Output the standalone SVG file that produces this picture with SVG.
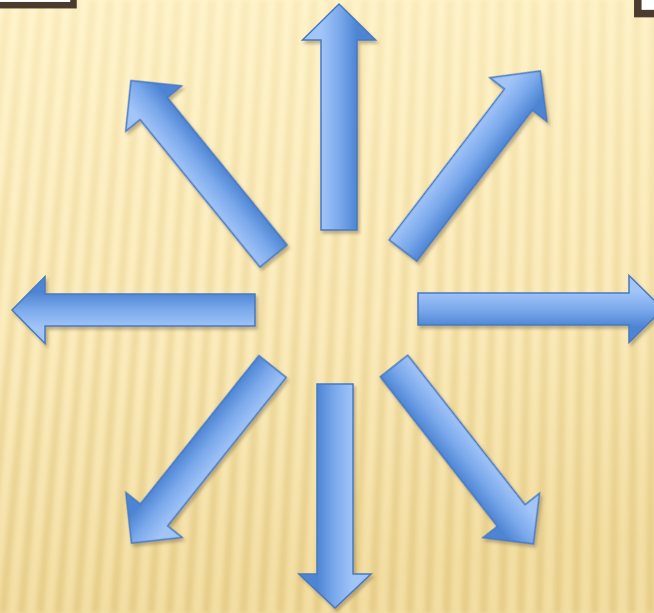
<svg xmlns="http://www.w3.org/2000/svg" width="654" height="613" viewBox="0 0 654 613">
<defs>
<linearGradient id="bg" x1="0" y1="0" x2="0.15" y2="1">
<stop offset="0" stop-color="#fff4cc"/>
<stop offset="0.6" stop-color="#fbebbb"/>
<stop offset="1" stop-color="#f3dea3"/>
</linearGradient>
<linearGradient id="stripeG" gradientUnits="userSpaceOnUse" x1="0" y1="0" x2="0" y2="613">
<stop offset="0" stop-color="#e9d28e" stop-opacity="0.25"/>
<stop offset="1" stop-color="#dfc47a" stop-opacity="0.65"/>
</linearGradient>
<filter id="blur" x="-10%" y="-10%" width="120%" height="120%">
<feGaussianBlur stdDeviation="2.2"/>
</filter>
<linearGradient id="arrowG" gradientUnits="userSpaceOnUse" x1="0" y1="-18" x2="0" y2="18">
<stop offset="0" stop-color="#a2c5f8"/>
<stop offset="0.5" stop-color="#7caaec"/>
<stop offset="1" stop-color="#4d84d3"/>
</linearGradient>
<filter id="shadow" x="-20%" y="-20%" width="140%" height="140%">
<feDropShadow dx="2" dy="3" stdDeviation="1.8" flood-color="#7d6c45" flood-opacity="0.45"/>
</filter>
<path id="diag" d="M0,-17.5 L190,-17.5 L190,-36 L226,0 L190,36 L190,17.5 L0,17.5 Z"/>
</defs>
<style>
.arrow { fill: url(#arrowG); stroke: #4679c2; stroke-width: 1.5; stroke-linejoin: miter; }
.corner { fill: #ffffff; stroke: #4b3a2e; }
</style>
<rect x="0" y="0" width="654" height="613" fill="url(#bg)"/>
<path filter="url(#blur)" fill="none" stroke="url(#stripeG)" stroke-width="8" d="M-60,0 L-126.6,613 M-43,0 L-108.1,613 M-26,0 L-89.6,613 M-9,0 L-71.1,613 M8,0 L-52.6,613 M25,0 L-34.1,613 M42,0 L-15.6,613 M59,0 L2.9,613 M76,0 L21.4,613 M93,0 L39.9,613 M110,0 L58.3,613 M127,0 L76.8,613 M144,0 L95.3,613 M161,0 L113.8,613 M178,0 L132.3,613 M195,0 L150.8,613 M212,0 L169.3,613 M229,0 L187.8,613 M246,0 L206.3,613 M263,0 L224.7,613 M280,0 L243.2,613 M297,0 L261.7,613 M314,0 L280.2,613 M331,0 L298.7,613 M348,0 L317.2,613 M365,0 L335.7,613 M382,0 L354.2,613 M399,0 L372.7,613 M416,0 L391.1,613 M433,0 L409.6,613 M450,0 L428.1,613 M467,0 L446.6,613 M484,0 L465.1,613 M501,0 L483.6,613 M518,0 L502.1,613 M535,0 L520.6,613 M552,0 L539.1,613 M569,0 L557.6,613 M586,0 L576,613 M603,0 L594.5,613 M620,0 L613,613 M637,0 L631.5,613 M654,0 L650,613 M671,0 L668.5,613 M688,0 L687,613"/>
<g id="corner-left">
<rect class="corner" x="-20" y="-20" width="93.5" height="25.2" stroke-width="6.5"/>
</g>
<g id="corner-right">
<rect class="corner" x="637.8" y="-20" width="40" height="33.6" stroke-width="7.5"/>
</g>
<g id="arrows" filter="url(#shadow)">
<g id="arrow-up">
<path class="arrow" transform="translate(339,230) rotate(-90)" d="M0,-18 L190,-18 L190,-36.5 L226,0 L190,36.5 L190,18 L0,18 Z"/>
</g>
<g id="arrow-down">
<path class="arrow" transform="translate(335,384) rotate(90)" d="M0,-18 L190,-18 L190,-36 L224,0 L190,36 L190,18 L0,18 Z"/>
</g>
<g id="arrow-left">
<path class="arrow" transform="translate(255,310) rotate(180)" d="M0,-16 L210,-16 L210,-33.5 L243,0 L210,33.5 L210,16 L0,16 Z"/>
</g>
<g id="arrow-right">
<path class="arrow" transform="translate(418,309)" d="M0,-16 L211,-16 L211,-33.5 L245,0 L211,33.5 L211,16 L0,16 Z"/>
</g>
<g id="arrow-ne">
<use href="#diag" class="arrow" transform="translate(403,250.5) rotate(-52.6)"/>
</g>
<g id="arrow-nw">
<use href="#diag" class="arrow" transform="translate(273.5,256) rotate(-129.1)"/>
</g>
<g id="arrow-sw">
<use href="#diag" class="arrow" transform="translate(272.5,366.5) rotate(128.6)"/>
</g>
<g id="arrow-se">
<use href="#diag" class="arrow" transform="translate(394,366) rotate(51.9)"/>
</g>
</g>
</svg>
